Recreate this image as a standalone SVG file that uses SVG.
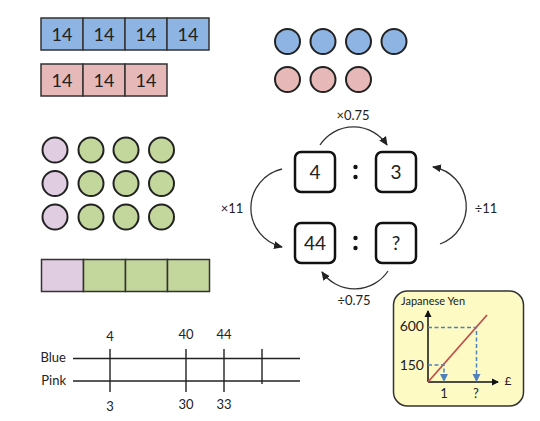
<svg xmlns="http://www.w3.org/2000/svg" width="540" height="421" viewBox="0 0 540 421">
<defs>
<style>
text{font-family:"Lato","Open Sans","Liberation Sans",sans-serif;fill:#222;}
.cell{stroke:#333;stroke-width:1.5;}
.blue{fill:#8db4e2;}
.pink{fill:#e6b8b7;}
.green{fill:#c3d69b;}
.lilac{fill:#e0cde2;}
.dot{stroke:#222;stroke-width:2;}
.num{font-size:18px;text-anchor:middle;}
.box{fill:#fff;stroke:#111;stroke-width:2.5;}
.boxt{font-size:19px;text-anchor:middle;}
.arc{fill:none;stroke:#333;stroke-width:1.3;marker-end:url(#ah);}
.lbl{font-size:13px;text-anchor:middle;}
.nl{stroke:#222;stroke-width:1.4;}
.dash{stroke:#4f81bd;stroke-width:1.5;stroke-dasharray:4,2.5;fill:none;}
</style>
<marker id="ah" markerWidth="10" markerHeight="10" refX="8" refY="5" orient="auto" markerUnits="userSpaceOnUse">
<path d="M0,1 L9,5 L0,9 Z" fill="#222"/>
</marker>
<marker id="ahb" markerWidth="9" markerHeight="9" refX="7" refY="4.5" orient="auto" markerUnits="userSpaceOnUse">
<path d="M0,0.5 L8,4.5 L0,8.5 Z" fill="#4f81bd"/>
</marker>
<marker id="ahk" markerWidth="8" markerHeight="8" refX="6" refY="4" orient="auto" markerUnits="userSpaceOnUse">
<path d="M0,0.5 L7,4 L0,7.5 Z" fill="#111"/>
</marker>
</defs>
<rect width="540" height="421" fill="#fff"/>

<g id="blue-bar">
<rect class="cell blue" x="41" y="18" width="42" height="32"/>
<rect class="cell blue" x="83" y="18" width="42" height="32"/>
<rect class="cell blue" x="125" y="18" width="42" height="32"/>
<rect class="cell blue" x="167" y="18" width="42" height="32"/>
<text class="num" x="62" y="41">14</text>
<text class="num" x="104" y="41">14</text>
<text class="num" x="146" y="41">14</text>
<text class="num" x="188" y="41">14</text>
</g>
<g id="pink-bar">
<rect class="cell pink" x="41" y="64" width="42" height="32"/>
<rect class="cell pink" x="83" y="64" width="42" height="32"/>
<rect class="cell pink" x="125" y="64" width="42" height="32"/>
<text class="num" x="62" y="87">14</text>
<text class="num" x="104" y="87">14</text>
<text class="num" x="146" y="87">14</text>
</g>

<g id="blue-dots">
<circle class="dot blue" cx="287.5" cy="41.5" r="12.5"/>
<circle class="dot blue" cx="323" cy="41.5" r="12.5"/>
<circle class="dot blue" cx="358.5" cy="41.5" r="12.5"/>
<circle class="dot blue" cx="394" cy="41.5" r="12.5"/>
</g>
<g id="pink-dots">
<circle class="dot pink" cx="287.5" cy="79.5" r="12.5"/>
<circle class="dot pink" cx="323" cy="79.5" r="12.5"/>
<circle class="dot pink" cx="358.5" cy="79.5" r="12.5"/>
</g>

<g id="dot-grid">
<circle class="dot lilac" cx="55" cy="150" r="12.5"/>
<circle class="dot green" cx="91" cy="150" r="12.5"/>
<circle class="dot green" cx="126" cy="150" r="12.5"/>
<circle class="dot green" cx="161.5" cy="150" r="12.5"/>
<circle class="dot lilac" cx="55" cy="183.5" r="12.5"/>
<circle class="dot green" cx="91" cy="183.5" r="12.5"/>
<circle class="dot green" cx="126" cy="183.5" r="12.5"/>
<circle class="dot green" cx="161.5" cy="183.5" r="12.5"/>
<circle class="dot lilac" cx="55" cy="217" r="12.5"/>
<circle class="dot green" cx="91" cy="217" r="12.5"/>
<circle class="dot green" cx="126" cy="217" r="12.5"/>
<circle class="dot green" cx="161.5" cy="217" r="12.5"/>
</g>

<g id="green-bar">
<rect class="cell lilac" x="41.5" y="259.5" width="42" height="32"/>
<rect class="cell green" x="83.5" y="259.5" width="42" height="32"/>
<rect class="cell green" x="125.5" y="259.5" width="42" height="32"/>
<rect class="cell green" x="167.5" y="259.5" width="42" height="32"/>
</g>

<g id="ratio-4"><rect class="box" x="295" y="152" width="40" height="40" rx="6"/><text class="boxt" x="315" y="179">4</text></g>
<g id="ratio-3"><rect class="box" x="376" y="152" width="40" height="40" rx="6"/><text class="boxt" x="396" y="179">3</text></g>
<g id="ratio-44"><rect class="box" x="295" y="223" width="40" height="40" rx="6"/><text class="boxt" x="315" y="250">44</text></g>
<g id="ratio-q"><rect class="box" x="376" y="223" width="40" height="40" rx="6"/><text class="boxt" x="396" y="250">?</text></g>
<g id="colons" fill="#111">
<circle cx="355.5" cy="167" r="2.2"/><circle cx="355.5" cy="177" r="2.2"/>
<circle cx="355.5" cy="238" r="2.2"/><circle cx="355.5" cy="248" r="2.2"/>
</g>

<g id="connectors">
<path class="arc" d="M320,145 A40,40 0 0 1 387,145"/>
<path class="arc" d="M388,271 A40,40 0 0 1 322,272"/>
<path class="arc" d="M282,169 A40,40 0 0 0 282,247"/>
<path class="arc" d="M440,244 A40,40 0 0 0 433,167"/>
</g>
<g id="arc-labels">
<text class="lbl" x="353" y="120">×0.75</text>
<text class="lbl" x="354" y="305">÷0.75</text>
<text class="lbl" x="232" y="213">×11</text>
<text class="lbl" x="486" y="213">÷11</text>
</g>

<g id="number-line">
<text x="66" y="362" font-size="13" text-anchor="end">Blue</text>
<text x="66" y="385" font-size="13" text-anchor="end">Pink</text>
<line class="nl" x1="73" y1="358.5" x2="300" y2="358.5"/>
<line class="nl" x1="73" y1="381" x2="300" y2="381"/>
<line class="nl" x1="110" y1="349" x2="110" y2="392"/>
<line class="nl" x1="186" y1="349" x2="186" y2="392"/>
<line class="nl" x1="224" y1="349" x2="224" y2="392"/>
<line class="nl" x1="262" y1="349" x2="262" y2="384"/>
<text class="lbl" x="110" y="341">4</text>
<text class="lbl" x="186" y="339">40</text>
<text class="lbl" x="224" y="339">44</text>
<text class="lbl" x="110" y="411">3</text>
<text class="lbl" x="186" y="409">30</text>
<text class="lbl" x="224" y="409">33</text>
</g>

<g id="graph">
<rect x="393.5" y="291" width="130" height="115" rx="14" fill="#fdfac4" stroke="#333" stroke-width="1.5"/>
<text x="401" y="305" font-size="11">Japanese Yen</text>
<line x1="428" y1="382" x2="428" y2="311" stroke="#111" stroke-width="1.5" marker-end="url(#ahk)"/>
<line x1="428" y1="382" x2="498" y2="382" stroke="#111" stroke-width="1.5" marker-end="url(#ahk)"/>
<line x1="428" y1="382" x2="487" y2="315" stroke="#c0504d" stroke-width="1.8"/>
<path class="dash" d="M428,327.5 H476.5 V381" marker-end="url(#ahb)"/>
<path class="dash" d="M428,365 H444 V381" marker-end="url(#ahb)"/>
<text x="424" y="331" font-size="14" text-anchor="end">600</text>
<text x="424" y="370" font-size="14" text-anchor="end">150</text>
<text x="444" y="398" font-size="13" text-anchor="middle">1</text>
<text x="476" y="398" font-size="13" text-anchor="middle">?</text>
<text x="508" y="385" font-size="12" text-anchor="middle">£</text>
</g>
</svg>
